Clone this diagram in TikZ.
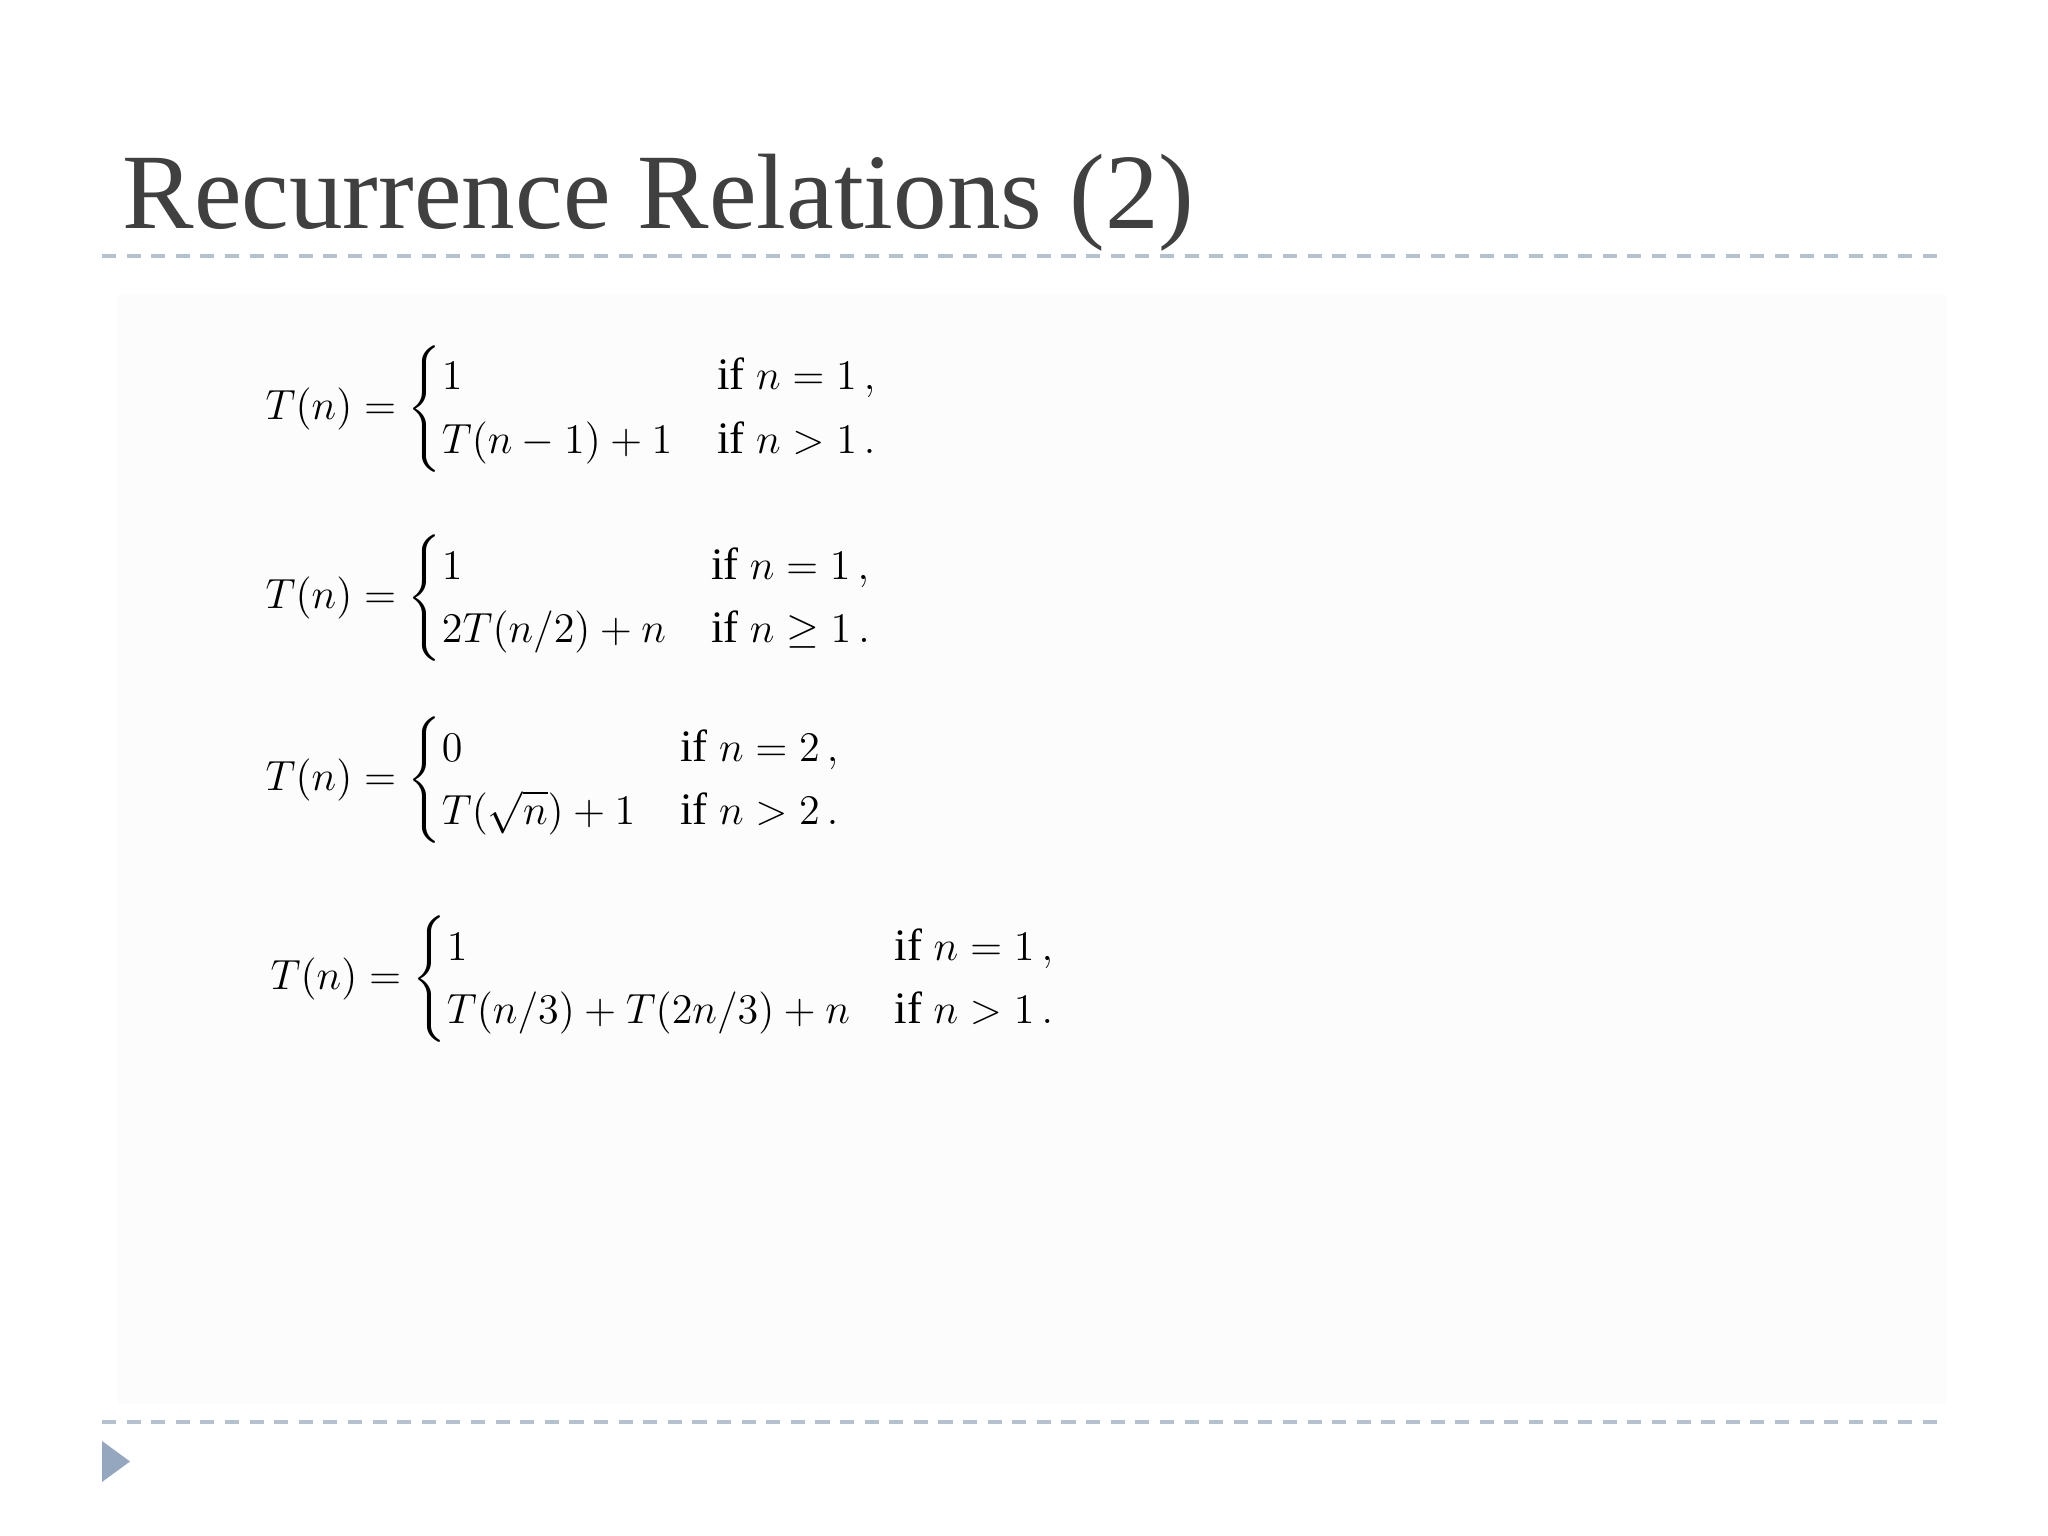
\documentclass[tikz,border=0pt]{standalone}
\usepackage{amsmath}
\usepackage{fontspec}
\setmainfont{Liberation Serif}
\renewcommand\arraystretch{0.85}
\begin{document}
\begin{tikzpicture}[x=1cm,y=1cm,
  sep/.style={draw=sepcol,line width=0.9pt,dash pattern=on 4pt off 3pt},
  eq/.style={anchor=west,inner sep=0pt,font=\fontsize{12.8}{15}\selectfont}]
\definecolor{sepcol}{HTML}{B4C2D0}
\definecolor{titlecol}{HTML}{404040}
\definecolor{tricol}{HTML}{94A7BE}
\definecolor{bgcol}{HTML}{FCFCFC}
\useasboundingbox (0,0) rectangle (20.48,15.36);
\fill[white] (0,0) rectangle (20.48,15.36);
\fill[bgcol] (1.18,1.32) rectangle (19.46,12.42);
\node[anchor=base west,inner sep=0pt,text=titlecol,font=\fontsize{30.5}{36}\selectfont] (title) at (1.22,13.07) {Recurrence Relations (2)};
\coordinate (s1a) at (1.02,12.80); \coordinate (s1b) at (19.46,12.80);
\coordinate (s2a) at (1.02,1.14); \coordinate (s2b) at (19.46,1.14);
\draw[sep] (s1a) -- (s1b);
\draw[sep] (s2a) -- (s2b);
\fill[tricol] (1.02,0.95) -- (1.02,0.54) -- (1.30,0.745) -- cycle;
\node[eq] (e1) at (2.65,11.27) {$T(n)=\begin{cases}1 & \text{if } n=1\,,\\ T(n-1)+1 & \text{if } n>1\,.\end{cases}$};
\node[eq] (e2) at (2.65,9.38) {$T(n)=\begin{cases}1 & \text{if } n=1\,,\\ 2T(n/2)+n & \text{if } n\geq 1\,.\end{cases}$};
\node[eq] (e3) at (2.65,7.56) {$T(n)=\begin{cases}0 & \text{if } n=2\,,\\ T(\sqrt{n})+1 & \text{if } n>2\,.\end{cases}$};
\node[eq] (e4) at (2.70,5.57) {$T(n)=\begin{cases}1 & \text{if } n=1\,,\\ T(n/3)+T(2n/3)+n & \text{if } n>1\,.\end{cases}$};
\end{tikzpicture}
\end{document}
